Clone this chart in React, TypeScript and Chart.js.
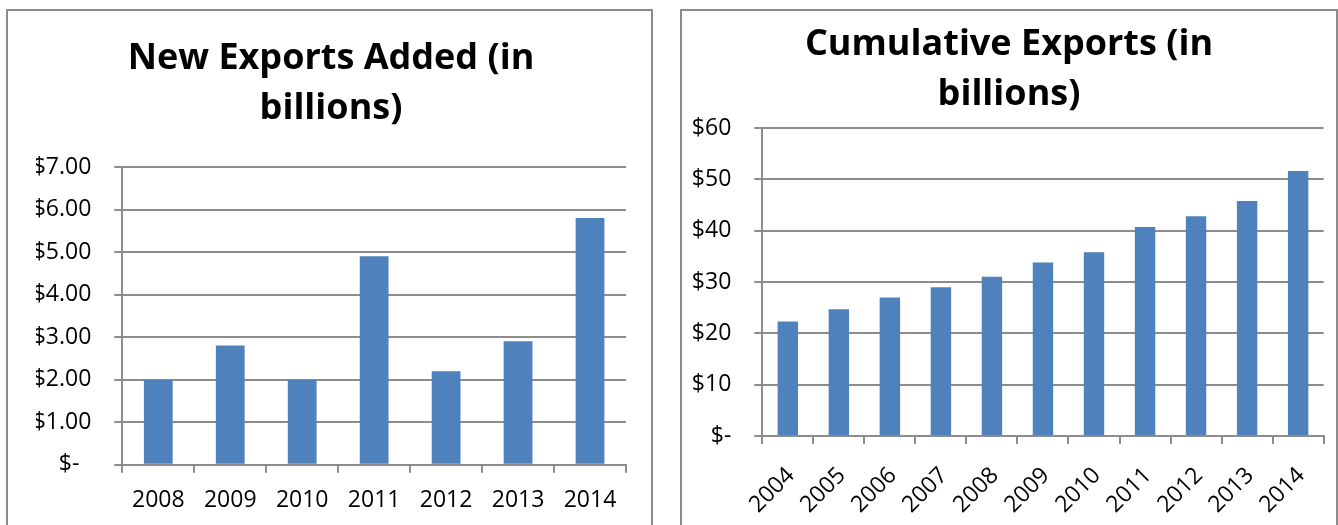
import React, { useEffect, useRef } from "react";
import { Chart, registerables } from "chart.js";

Chart.register(...registerables);

// ---- Data ----
const newYears = ["2008", "2009", "2010", "2011", "2012", "2013", "2014"];
const newExports = [2.0, 2.8, 2.0, 4.9, 2.2, 2.9, 5.8];
const newTickLabels = ["$-  ", "$1.00", "$2.00", "$3.00", "$4.00", "$5.00", "$6.00", "$7.00"];
const newTitle = ["New Exports Added (in", "billions)"];

const cumYears = ["2004", "2005", "2006", "2007", "2008", "2009", "2010", "2011", "2012", "2013", "2014"];
const cumExports = [22.3, 24.7, 27.0, 29.0, 31.0, 33.8, 35.8, 40.7, 42.8, 45.8, 51.6];
const cumTickLabels = ["$-", "$10", "$20", "$30", "$40", "$50", "$60"];
const cumTitle = ["Cumulative Exports (in", "billions)"];

// ---- Styles ----
const BAR = "#4F81BD";
const GRID = "#8c8c8c";
const FONT = "'Open Sans', 'DejaVu Sans', sans-serif";
const TITLE_SIZE = 36;
const TICK_SIZE = 23;

type Opts = {
  labels: string[];
  data: number[];
  title: string[];
  tickLabels: string[];
  max: number;
  step: number;
  padL: number;
  padR: number;
  yWidth: number;
  xHeight: number;
  titleTop: number;
  titleBottom: number;
  rotation: number;
  xPad: number;
  xLabelOffset: number;
};

function makeConfig(o: Opts): any {
  return {
    type: "bar",
    data: {
      labels: o.labels,
      datasets: [
        {
          data: o.data,
          backgroundColor: BAR,
          borderWidth: 0,
          barPercentage: 0.4,
          categoryPercentage: 1,
        },
      ],
    },
    options: {
      responsive: false,
      animation: false,
      layout: { padding: { left: o.padL, right: o.padR, top: 0, bottom: 0 } },
      plugins: {
        legend: { display: false },
        tooltip: { enabled: false },
        title: {
          display: true,
          text: o.title,
          color: "#000",
          font: { family: FONT, size: TITLE_SIZE, weight: "bold", lineHeight: 50.5 / TITLE_SIZE },
          padding: { top: o.titleTop, bottom: o.titleBottom },
        },
      },
      scales: {
        x: {
          grid: {
            display: true,
            drawOnChartArea: false,
            drawTicks: true,
            tickLength: 8,
            color: GRID,
            lineWidth: 2,
            offset: true,
          },
          border: { display: true, color: GRID, width: 2 },
          ticks: {
            color: "#000",
            font: { family: FONT, size: TICK_SIZE },
            padding: o.xPad,
            labelOffset: o.xLabelOffset,
            autoSkip: false,
            maxRotation: o.rotation,
            minRotation: o.rotation,
          },
          afterFit: (s: any) => {
            s.height = o.xHeight;
          },
        },
        y: {
          min: 0,
          max: o.max,
          grid: { color: GRID, lineWidth: 2, tickLength: 8, drawTicks: true },
          border: { display: true, color: GRID, width: 2 },
          ticks: {
            stepSize: o.step,
            color: "#000",
            padding: 23,
            font: { family: FONT, size: TICK_SIZE },
            callback: (v: any) => o.tickLabels[Math.round(Number(v) / o.step)],
          },
          afterFit: (s: any) => {
            s.width = o.yWidth;
          },
        },
      },
    },
  };
}

function BarChart({ opts, width, height }: { opts: Opts; width: number; height: number }) {
  const ref = useRef<HTMLCanvasElement | null>(null);
  useEffect(() => {
    if (!ref.current) return;
    const chart = new Chart(ref.current, makeConfig(opts));
    return () => chart.destroy();
  }, []);
  return (
    <canvas
      ref={ref}
      width={width}
      height={height}
      style={{ display: "block", width: width + "px", height: height + "px" }}
    />
  );
}

export default function App() {
  const leftOpts: Opts = {
    labels: newYears,
    data: newExports,
    title: newTitle,
    tickLabels: newTickLabels,
    max: 7,
    step: 1,
    padL: 28,
    padR: 25,
    yWidth: 86.3,
    xHeight: 60.3,
    titleTop: 22,
    titleBottom: 33,
    rotation: 0,
    xPad: 14,
    xLabelOffset: 0,
  };
  const rightOpts: Opts = {
    labels: cumYears,
    data: cumExports,
    title: cumTitle,
    tickLabels: cumTickLabels,
    max: 60,
    step: 10,
    padL: 8,
    padR: 8,
    yWidth: 72.3,
    xHeight: 89,
    titleTop: 8,
    titleBottom: 8,
    rotation: 45,
    xPad: 18,
    xLabelOffset: 3,
  };
  const box: React.CSSProperties = {
    position: "absolute",
    top: 9,
    height: 530,
    border: "2px solid " + GRID,
    background: "#fff",
    overflow: "hidden",
  };
  return (
    <div
      style={{
        position: "absolute",
        left: 0,
        top: 0,
        width: 1338,
        height: 525,
        background: "#fff",
        overflow: "hidden",
      }}
    >
      <div style={{ ...box, left: 6, width: 643 }}>
        <BarChart opts={leftOpts} width={643} height={514} />
      </div>
      <div style={{ ...box, left: 680, width: 654 }}>
        <BarChart opts={rightOpts} width={654} height={514} />
      </div>
    </div>
  );
}
